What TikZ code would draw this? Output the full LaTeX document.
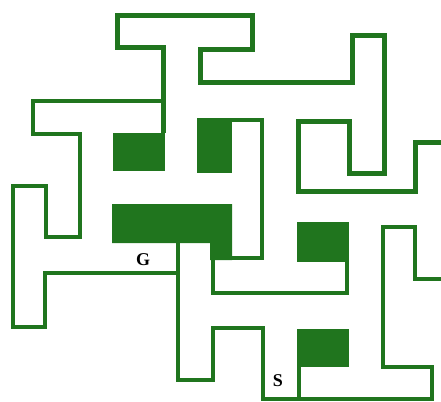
\documentclass[tikz,border=0pt]{standalone}
\usepackage{fontspec}
\setmainfont{Liberation Serif}
\usepackage{xcolor}
\definecolor{mazegreen}{RGB}{32,117,30}

\begin{document}
\begin{tikzpicture}[x=1pt,y=-1pt,
wall/.style={draw=mazegreen,line width=4pt,line join=miter},
thickwall/.style={wall,line width=5pt},
thinwall/.style={wall,line width=3.5pt},
block/.style={fill=mazegreen},
lbl/.style={font=\fontsize{18}{18}\selectfont\bfseries,inner sep=0pt}]
\useasboundingbox (0,0) rectangle (441,401);
\fill[block] (113,133) rectangle (165,171);
\fill[block] (197,118) rectangle (232,173);
\fill[block] (112,204) rectangle (232,243) (210,243) rectangle (232,260);
\fill[block] (297,222) rectangle (349,262);
\fill[block] (297,329) rectangle (349,367);
\draw[thickwall] (441,142) -- (415,142) -- (415,191) -- (298,191) -- (298,121) -- (349,121) -- (349,173) -- (384,173) -- (384,36) -- (352,36) -- (352,83) -- (200,83) -- (200,50) -- (252,50) -- (252,16) -- (117,16) -- (117,48) -- (163,48) -- (163,133);
\draw[wall] (163,101) -- (33,101) -- (33,134) -- (80,134) -- (80,237) -- (46,237) -- (46,186) -- (13,186) -- (13,327) -- (45,327) -- (45,273) -- (178,273);
\draw[thinwall] (178,243) -- (178,380) -- (213,380) -- (213,328) -- (263,328) -- (263,399) -- (432,399) -- (432,367) -- (383,367) -- (383,227) -- (415,227) -- (415,279) -- (441,279);
\draw[thinwall] (299,367) -- (299,399);
\draw[wall] (232,120) -- (262,120) -- (262,258) -- (232,258);
\draw[wall] (213,260) -- (213,293) -- (347,293) -- (347,262);
\node[lbl] (G) at (143,260) {G};
\node[lbl] (S) at (278,381) {S};
\end{tikzpicture}
\end{document}
